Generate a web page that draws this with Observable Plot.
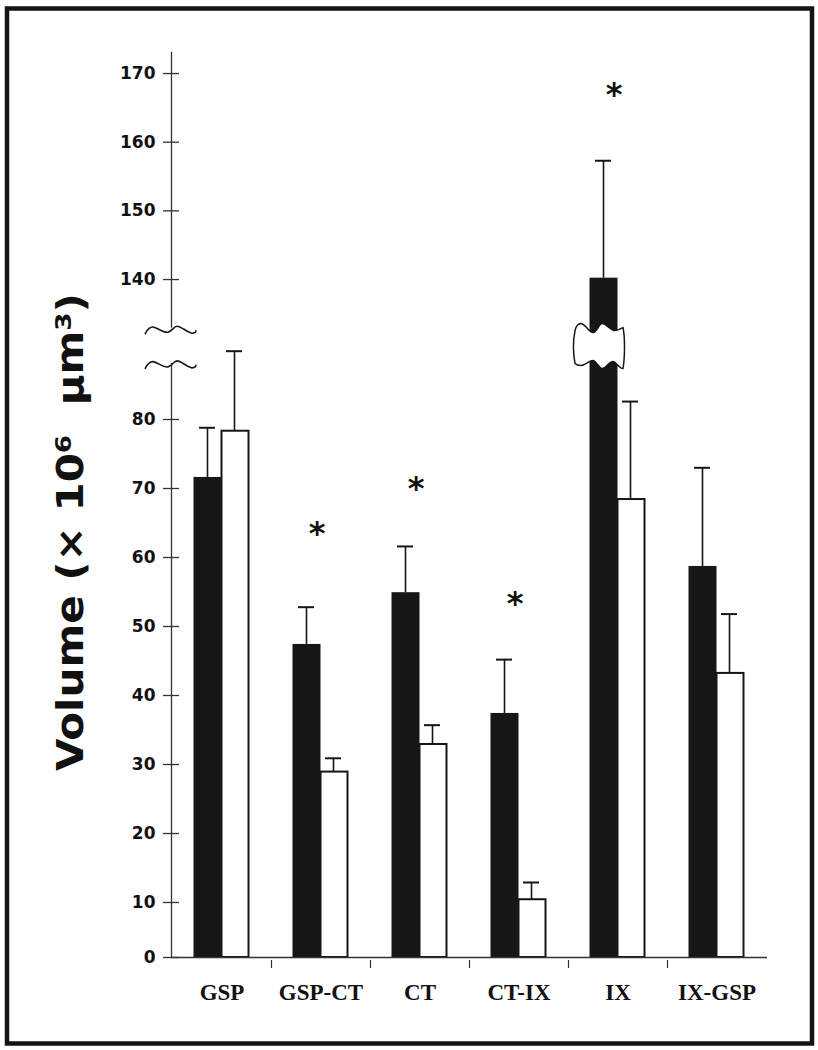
<!DOCTYPE html>
<html><head><meta charset="utf-8">
<script src="https://cdn.jsdelivr.net/npm/d3@7"></script>
<script src="https://cdn.jsdelivr.net/npm/@observablehq/plot@0.6"></script>
<style>body{margin:0;background:#fff}</style>
</head><body><div id="chart"></div>
<script>
// ---- data ----
const categories = ["GSP", "GSP-CT", "CT", "CT-IX", "IX", "IX-GSP"];
const blackMean  = [71.6, 47.4, 54.9, 37.4, 140.2, 58.7];
const blackUpper = [78.8, 52.8, 61.6, 45.2, 157.3, 73.0];
const whiteMean  = [78.3, 28.9, 32.9, 10.4, 68.4, 43.2];
const whiteUpper = [89.9, 30.9, 35.7, 12.9, 82.6, 51.8];
const sigCategories = ["GSP-CT", "CT", "CT-IX", "IX"];
const sigLevel      = [64.3, 70.9, 54.2, 167.8];
const yTicks = [0, 10, 20, 30, 40, 50, 60, 70, 80, 140, 150, 160, 170];
const yLabel = "Volume (\u00d7 10\u2076\u00a0\u00a0\u03bcm\u00b3)";

// broken axis: piecewise linear scale
const yDomain = [0, 10, 91, 130.7, 175];
const yRange  = [957, 902, 343.1, 342.9, 38.7];
const lowerBreak = 87.7, upperBreak = 132.4;   // squiggle levels
const axisLowTop = 88.1, axisHighBottom = 132.9, axisTop = 173.1;

const rows = categories.map((c, i) => ({cat: c, black: blackMean[i], blackTop: blackUpper[i], white: whiteMean[i], whiteTop: whiteUpper[i]}));
const stars = sigCategories.map((c, i) => ({cat: c, y: sigLevel[i]}));

const INK = "#161616";

function decorations(index, scales) {
  const x = scales.x, y = scales.y;
  const ax = x(categories[0]) - 1;
  const g = d3.create("svg:g");
  const squig = (sy) => `M${ax-26},${sy+3} C${ax-24},${sy-2} ${ax-20},${sy-5} ${ax-17},${sy-4} C${ax-13},${sy-3} ${ax-7},${sy+2} ${ax-3},${sy+1} C${ax+1},${sy} ${ax+3},${sy-5} ${ax+6},${sy-5} C${ax+10},${sy-5} ${ax+16},${sy+1} ${ax+21},${sy+2} C${ax+23},${sy+2} ${ax+25},${sy+1} ${ax+25},${sy-1}`;
  const yu = y(upperBreak), yl = y(lowerBreak);
  g.append("path").attr("d", squig(yu)).attr("fill", "none").attr("stroke", INK).attr("stroke-width", 1.6);
  g.append("path").attr("d", squig(yl)).attr("fill", "none").attr("stroke", INK).attr("stroke-width", 1.6);
  // break patch across the IX black bar
  const bw = x(categories[1]) - x(categories[0]);
  const bx = x("IX") + bw / 2 - 14.5;
  const cy = (yu + yl) / 2 - 2;
  const P = (dx, dy) => `${bx+dx},${cy+dy}`;
  const d = `M${P(-28,-16)} C${P(-27,-20)} ${P(-25,-23)} ${P(-22,-23)} C${P(-17,-22)} ${P(-14,-14)} ${P(-10,-14)} C${P(-6,-14)} ${P(-4,-23)} ${P(-1,-23)} C${P(3,-23)} ${P(8,-16)} ${P(12,-16)} C${P(15,-16)} ${P(18,-18)} ${P(20,-19)} C${P(22,-10)} ${P(22,10)} ${P(20,22)} C${P(16,22)} ${P(13,15)} ${P(10,15)} C${P(6,15)} ${P(3,22)} ${P(-1,22)} C${P(-4,22)} ${P(-7,14)} ${P(-10,14)} C${P(-15,14)} ${P(-18,19)} ${P(-22,19)} C${P(-25,19)} ${P(-27,18)} ${P(-28,17)} C${P(-30,6)} ${P(-30,-6)} ${P(-28,-16)} Z`;
  g.append("path").attr("d", d).attr("fill", "#fff").attr("stroke", INK).attr("stroke-width", 1.5);
  return g.node();
}

const chart = Plot.plot({
  width: 818, height: 1050,
  marginLeft: 6.5, marginRight: 6.5, marginTop: 8, marginBottom: 7,
  style: {background: "#fff", overflow: "visible"},
  x: {type: "band", domain: categories, range: [172, 766], padding: 0, axis: null},
  y: {type: "linear", domain: yDomain, range: yRange, axis: null},
  marks: [
    Plot.frame({stroke: "#141414", strokeWidth: 4.5}),
    // bars
    Plot.barY(rows, {x: "cat", y: "black", fill: INK, insetLeft: 21.5, insetRight: 49.5}),
    Plot.barY(rows, {x: "cat", y: "white", fill: "#fff", stroke: INK, strokeWidth: 2, insetLeft: 49.5, insetRight: 22.5}),
    // error bars
    Plot.ruleX(rows, {x: "cat", y1: "black", y2: "blackTop", dx: -14.5, stroke: INK, strokeWidth: 1.6}),
    Plot.ruleX(rows, {x: "cat", y1: "white", y2: "whiteTop", dx: 12.5, stroke: INK, strokeWidth: 1.6}),
    Plot.tickY(rows, {x: "cat", y: "blackTop", insetLeft: 27, insetRight: 56, stroke: INK, strokeWidth: 2}),
    Plot.tickY(rows, {x: "cat", y: "whiteTop", insetLeft: 54, insetRight: 29, stroke: INK, strokeWidth: 2}),
    // x axis baseline and separators
    Plot.ruleY([0], {insetLeft: 164.5, insetRight: 44.5, stroke: "#333", strokeWidth: 1.3}),
    Plot.ruleX(categories.slice(1), {x: d => d, y1: () => 0, y2: () => 0, insetTop: 3, insetBottom: -11, dx: -49.5, stroke: "#333", strokeWidth: 1.2}),
    // y axis line (broken)
    Plot.ruleX([[0, axisLowTop], [axisHighBottom, axisTop]], {x: () => categories[0], y1: d => d[0], y2: d => d[1], dx: -50.5, stroke: "#333", strokeWidth: 1.3}),
    Plot.tickY(yTicks, {y: d => d, x: () => categories[0], insetLeft: -9, insetRight: 92, stroke: "#333", strokeWidth: 1.3}),
    Plot.text(yTicks, {y: d => d, x: () => categories[0], text: d => String(d), textAnchor: "end", dx: -66.5, fontSize: 17, fontWeight: "bold", fontFamily: "DejaVu Sans", fill: "#111"}),
    // category labels
    Plot.text(categories, {x: d => d, frameAnchor: "bottom", text: d => d, dy: -44, fontSize: 23, fontWeight: "bold", fontFamily: "Liberation Serif", fill: "#111"}),
    // significance stars
    Plot.text(stars, {x: "cat", y: "y", text: () => "*", dx: -4, dy: 6, fontSize: 32, fontWeight: "bold", fontFamily: "DejaVu Sans", fill: "#111"}),
    // y label
    Plot.text([yLabel], {frameAnchor: "left", textAnchor: "middle", text: d => d, rotate: -90, dx: 64, dy: 6, fontSize: 38, fontWeight: "bold", fontFamily: "DejaVu Sans", fill: "#111"}),
    decorations
  ]
});
// stretch the axis title to the length it has in the figure
d3.select(chart).selectAll("text").filter(function() { return this.textContent === yLabel; })
  .attr("textLength", 478).attr("lengthAdjust", "spacingAndGlyphs");
document.getElementById("chart").appendChild(chart);
</script>
</body></html>
